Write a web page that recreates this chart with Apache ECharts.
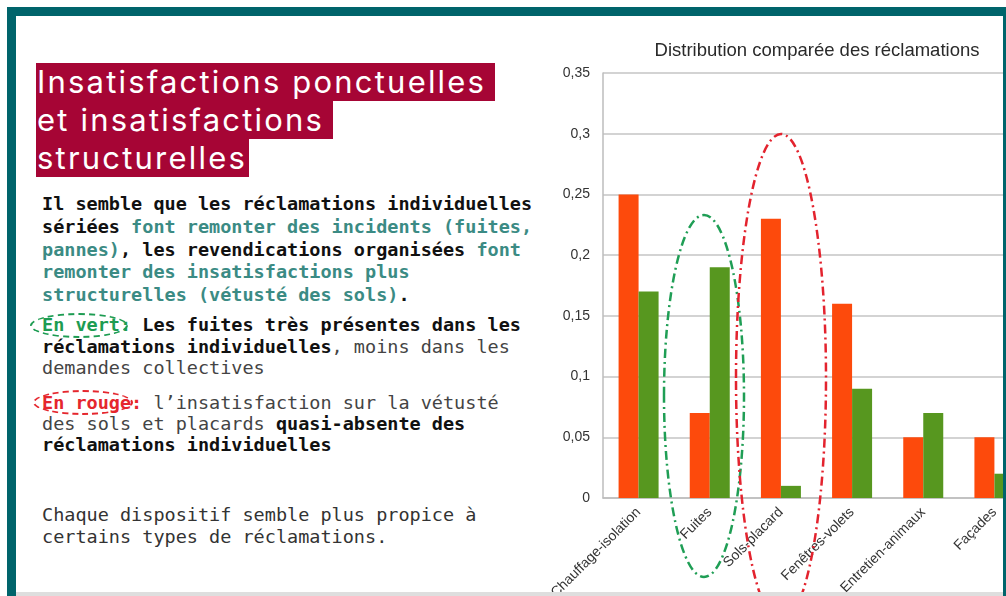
<!DOCTYPE html>
<html>
<head>
<meta charset="utf-8">
<script src="https://cdn.jsdelivr.net/npm/echarts@6/dist/echarts.min.js"></script>
<style>
  html, body { margin: 0; padding: 0; width: 1006px; height: 596px; overflow: hidden; background: #fff; }
  .frame {
    position: absolute; left: 7px; top: 7px; width: 999px; height: 620px; box-sizing: border-box;
    border-top: 9px solid #00646b; border-left: 9px solid #00646b; border-right: 3px solid #00646b;
    z-index: 10; pointer-events: none;
  }
  .bottombar { position: absolute; left: 16px; right: 3px; top: 592px; height: 4px; background: #dedede; z-index: 9; }
  .heading { position: absolute; left: 36px; top: 63px; font-family: Inter, "Noto Sans", sans-serif; font-size: 31px; letter-spacing: 2.2px; color: #fff; }
  .heading div { display: table; background: #a60535; line-height: 38px; padding: 0 9px 0 1px; }
  .txt { position: absolute; left: 42px; font-family: "DejaVu Sans Mono", monospace; font-size: 18.5px; line-height: 22px; color: #444; white-space: pre; }
  .txt b { color: #111; }
  .teal { color: #3b8b84; font-weight: bold; }
  .gr { color: #1d9c52; font-weight: bold; }
  .rd { color: #e5262d; font-weight: bold; }
  .chip { position: absolute; border: 2px dashed; border-radius: 50%; box-sizing: border-box; }
  #chart { position: absolute; left: 547px; top: 0; width: 540px; height: 596px; }
</style>
</head>
<body>
<div class="heading">
  <div>Insatisfactions ponctuelles</div>
  <div>et insatisfactions</div>
  <div style="padding-right:2px">structurelles</div>
</div>

<div class="txt" style="top:193px;line-height:22.8px"><b>Il semble que les réclamations individuelles</b>
<b>sériées</b> <span class="teal">font remonter des incidents (fuites,</span>
<span class="teal">pannes)</span><b>, les revendications organisées</b> <span class="teal">font</span>
<span class="teal">remonter des insatisfactions plus</span>
<span class="teal">structurelles (vétusté des sols)</span><b>.</b></div>

<div class="txt" style="top:314px;line-height:21.5px"><span class="gr">En vert:</span> <b>Les fuites très présentes dans les</b>
<b>réclamations individuelles</b>, moins dans les
demandes collectives</div>
<div class="chip" style="left:30px;top:313px;width:98px;height:25px;border-color:#1d9c52"></div>

<div class="txt" style="top:392px;line-height:21px"><span class="rd">En rouge:</span> l’insatisfaction sur la vétusté
des sols et placards <b>quasi-absente des</b>
<b>réclamations individuelles</b></div>
<div class="chip" style="left:33px;top:390px;width:100px;height:25px;border-color:#e5262d"></div>

<div class="txt" style="top:504px;color:#333">Chaque dispositif semble plus propice à
certains types de réclamations.</div>

<div id="chart"></div>
<div class="bottombar"></div>
<div class="frame"></div>

<script>
const categories = ["Chauffage-isolation", "Fuites", "Sols-placard", "Fenêtres-volets", "Entretien-animaux", "Façades"];
const individuelles = [0.25, 0.07, 0.23, 0.16, 0.05, 0.05];
const collectives = [0.17, 0.19, 0.01, 0.09, 0.07, 0.02];

const chart = echarts.init(document.getElementById("chart"));

// ellipses de mise en évidence (annotations du slide)
const dashDot = [9, 4, 2, 4];

chart.setOption({
  animation: false,
  title: {
    text: "Distribution comparée des réclamations",
    left: "center",
    top: 36,
    textStyle: { fontFamily: "Liberation Sans", fontSize: 18.5, fontWeight: "normal", color: "#2a2a2a" },
  },
  grid: { left: 56, right: 57, top: 73, bottom: 98, outerBoundsMode: "none" },
  xAxis: {
    type: "category",
    data: categories,
    axisLine: { lineStyle: { color: "#bdbdbd", width: 1.5 } },
    axisTick: { show: false },
    axisLabel: { rotate: 45, margin: 12, fontFamily: "Liberation Sans", fontSize: 14, color: "#333" },
  },
  yAxis: {
    type: "value",
    min: 0,
    max: 0.35,
    interval: 0.05,
    axisLine: { show: true, lineStyle: { color: "#bdbdbd", width: 1.5 } },
    axisTick: { show: false },
    splitLine: { lineStyle: { color: "#c4c4c4", width: 1.5 } },
    axisLabel: {
      margin: 13,
      fontFamily: "Liberation Sans",
      fontSize: 14,
      color: "#333",
      formatter: (v) => String(+v.toFixed(2)).replace(".", ","),
    },
  },
  series: [
    { type: "bar", name: "Individuelles", data: individuelles, barWidth: 20, barGap: 0, itemStyle: { color: "#fd4a0c" } },
    { type: "bar", name: "Collectives", data: collectives, barWidth: 20, itemStyle: { color: "#57971f" } },
  ],
  graphic: [
    {
      type: "ellipse",
      z: 100,
      shape: { cx: 157, cy: 396, rx: 40, ry: 181 },
      style: { fill: null, stroke: "#1f9e55", lineWidth: 2.5, lineDash: dashDot },
    },
    {
      type: "ellipse",
      z: 100,
      shape: { cx: 234, cy: 378, rx: 45, ry: 244 },
      style: { fill: null, stroke: "#e3232e", lineWidth: 2.5, lineDash: dashDot },
    },
  ],
});
</script>
</body>
</html>
